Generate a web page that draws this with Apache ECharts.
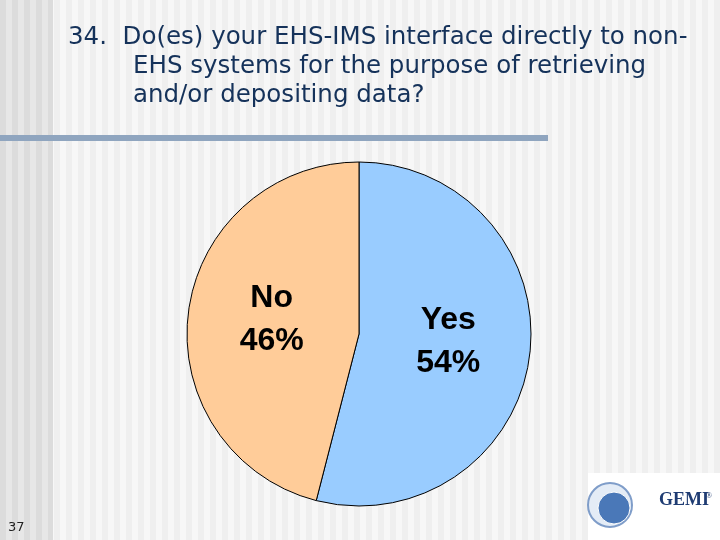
<!DOCTYPE html>
<html>
<head>
<meta charset="utf-8">
<script src="https://cdn.jsdelivr.net/npm/echarts@6/dist/echarts.min.js"></script>
<style>
html,body{margin:0;padding:0;}
#chart{width:720px;height:540px;
background:
 repeating-linear-gradient(to right,#dcdcdc 0,#dcdcdc 6px,#e7e7e7 6px,#e7e7e7 12px) 0 0/53px 100% no-repeat,
 repeating-linear-gradient(to right,#f7f7f7 0,#f7f7f7 6px,#efefef 6px,#efefef 12px);
}
</style>
</head>
<body>
<div id="chart"></div>
<script>
const titleLines = ["34.  Do(es) your EHS-IMS interface directly to non-", "EHS systems for the purpose of retrieving", "and/or depositing data?"];
const categories = ["Yes", "No"];
const values = [54, 46];
const sliceColors = ["#99CCFF", "#FFCC99"];
const pageNumber = "37";

const chart = echarts.init(document.getElementById('chart'), null, {renderer: 'canvas'});
const titleFont = {fontFamily: 'DejaVu Sans', fontSize: 24.5, fill: '#15325A'};
chart.setOption({
  backgroundColor: 'transparent',
  animation: false,
  graphic: [
    {type: 'rect', shape: {x: 0, y: 135, width: 548, height: 6}, style: {fill: '#8FA5BF'}},
    {type: 'text', x: 68, y: 38, style: Object.assign({text: titleLines[0], textVerticalAlign: 'middle'}, titleFont)},
    {type: 'text', x: 133, y: 67, style: Object.assign({text: titleLines[1], textVerticalAlign: 'middle'}, titleFont)},
    {type: 'text', x: 133, y: 96, style: Object.assign({text: titleLines[2], textVerticalAlign: 'middle'}, titleFont)},
    {type: 'text', x: 8, y: 528, style: {text: pageNumber, fontFamily: 'DejaVu Sans', fontSize: 13, fill: '#222', textVerticalAlign: 'middle'}},
    {type: 'rect', shape: {x: 588, y: 473, width: 132, height: 67}, style: {fill: '#ffffff'}},
    {type: 'circle', shape: {cx: 610, cy: 505, r: 22}, style: {fill: '#e4ecf6', stroke: '#7f9dc9', lineWidth: 2}},
    {type: 'circle', shape: {cx: 614, cy: 508, r: 16}, style: {fill: '#4a78b8', stroke: '#ffffff', lineWidth: 1}},
    {type: 'text', x: 659, y: 509, style: {text: 'GEMI', fontFamily: 'Liberation Serif', fontWeight: 'bold', fontSize: 18, fill: '#1F3C73', textVerticalAlign: 'bottom'}},
    {type: 'text', x: 706, y: 500, style: {text: '®', fontFamily: 'Liberation Serif', fontSize: 8, fill: '#1F3C73', textVerticalAlign: 'bottom'}}
  ],
  series: [{
    type: 'pie',
    center: [359, 334],
    radius: 172,
    startAngle: 90,
    clockwise: true,
    avoidLabelOverlap: false,
    itemStyle: {borderColor: '#000', borderWidth: 1},
    label: {
      show: true,
      position: 'inside',
      formatter: '{b}\n{d}%',
      fontFamily: 'Liberation Sans',
      fontWeight: 'bold',
      fontSize: 32,
      lineHeight: 43,
      offset: [1, -3],
      color: '#000'
    },
    labelLine: {show: false},
    emphasis: {disabled: true},
    data: categories.map((c, i) => ({name: c, value: values[i], itemStyle: {color: sliceColors[i]}}))
  }]
});
</script>
</body>
</html>
